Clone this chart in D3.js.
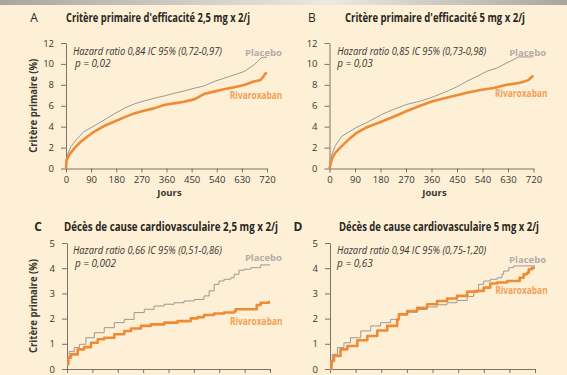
<!DOCTYPE html>
<html>
<head>
<meta charset="utf-8">
<script src="https://cdn.jsdelivr.net/npm/d3@7"></script>
<style>
html, body { margin: 0; padding: 0; background: #fdf0d6; }
svg { display: block; }
text { font-family: "Open Sans", "Noto Sans", sans-serif; }
</style>
</head>
<body>
<svg id="chart" width="567" height="375"></svg>
<script>
// ---- data (day, cumulative %) ----
const dayTicks = [0, 90, 180, 270, 360, 450, 540, 630, 720];
const primaryTicks = [0, 2, 4, 6, 8, 10, 12];
const deathTicks = [0, 1, 2, 3, 4, 5];

const placeboA = [[0,0],[2,0.6],[5,1.28],[17,2.08],[41,2.88],[64,3.51],[100,4.06],[136,4.63],[172,5.21],[208,5.75],[244,6.17],[279,6.45],[315,6.71],[351,6.93],[387,7.19],[423,7.41],[459,7.67],[494,7.89],[530,8.31],[566,8.63],[602,8.95],[638,9.27],[673,9.9],[697,10.54],[709,10.64],[720,10.64]];
const rivaA = [[0,0],[2,0.8],[11,1.28],[29,1.92],[53,2.56],[76,3.04],[100,3.51],[136,4.06],[172,4.47],[208,4.89],[244,5.27],[279,5.53],[315,5.75],[351,6.07],[387,6.23],[423,6.39],[459,6.61],[494,7.12],[530,7.35],[566,7.57],[602,7.76],[638,7.99],[673,8.31],[697,8.47],[707,8.79],[715,9.1],[720,9.17]];

const placeboB = [[0,0],[5,1.1],[20,2.16],[44,3.1],[93,3.9],[132,4.4],[185,5.17],[226,5.65],[273,6.13],[320,6.44],[361,6.8],[402,7.24],[449,7.8],[485,8.35],[520,8.8],[555,9.3],[591,9.6],[626,10.1],[649,10.4],[667,10.67],[720,10.67]];
const rivaB = [[0,0],[8,0.9],[20,1.5],[44,2.16],[73,2.9],[93,3.35],[132,3.95],[185,4.5],[226,4.95],[273,5.5],[320,6.0],[361,6.4],[402,6.7],[449,7.0],[485,7.25],[532,7.5],[579,7.7],[626,8.0],[673,8.2],[702,8.45],[715,8.8],[720,8.85]];

const placeboC = [[0,0.4],[8,0.7],[26,0.85],[44,0.98],[67,1.24],[97,1.44],[132,1.64],[168,1.84],[203,1.97],[238,2.24],[274,2.37],[309,2.5],[345,2.57],[380,2.63],[415,2.7],[451,2.76],[486,2.9],[504,3.1],[522,3.36],[539,3.49],[557,3.56],[581,3.62],[593,3.76],[610,3.92],[628,3.96],[652,4.02],[687,4.13],[720,4.13]];
const rivaC = [[0,0.19],[5,0.45],[14,0.58],[38,0.78],[61,0.87],[85,1.04],[109,1.18],[132,1.24],[168,1.38],[203,1.51],[227,1.61],[262,1.71],[297,1.77],[345,1.84],[392,1.9],[439,2.01],[463,2.06],[486,2.14],[522,2.2],[557,2.24],[593,2.28],[598,2.37],[673,2.54],[687,2.63],[716,2.66],[720,2.66]];

const placeboD = [[0,0.12],[8,0.58],[26,0.85],[49,1.04],[72,1.24],[108,1.51],[143,1.71],[178,1.84],[213,1.97],[242,2.14],[271,2.25],[306,2.36],[341,2.46],[376,2.55],[411,2.63],[446,2.72],[482,2.88],[505,3.12],[522,3.36],[540,3.49],[563,3.56],[587,3.62],[604,3.76],[610,3.89],[628,4.02],[645,4.09],[720,4.09]];
const rivaD = [[0,0],[5,0.32],[14,0.52],[37,0.78],[61,0.91],[96,1.14],[131,1.31],[166,1.53],[201,1.71],[236,1.97],[242,2.17],[271,2.3],[306,2.43],[341,2.57],[376,2.7],[411,2.8],[446,2.9],[482,3.07],[517,3.1],[540,3.23],[563,3.39],[587,3.43],[622,3.49],[666,3.62],[680,3.76],[692,3.82],[698,3.96],[710,4.02],[720,4.02]];

// ---- panels ----
const panels = [
    { letter: "A", letterBold: false, title: "Critère primaire d'efficacité 2,5 mg x 2/j", titleW: 184,
      hr: "Hazard ratio 0,84 IC 95% (0,72-0,97)", p: "p = 0,02",
      placebo: placeboA, riva: rivaA, yMax: 12, yTicks: primaryTicks, step: false,
      box: { left: 66, right: 267, top: 43, bottom: 168.5 }, letterX: 34, titleX: 66, titleY: 22,
      yLabel: true, placeboAt: [641, 11.1], rivaAt: [587, 7.0], hrAt: [25, 11.23], pAt: [32, 10.0] },
    { letter: "B", letterBold: false, title: "Critère primaire d'efficacité 5 mg x 2/j", titleW: 180,
      hr: "Hazard ratio 0,85 IC 95% (0,73-0,98)", p: "p = 0,03",
      placebo: placeboB, riva: rivaB, yMax: 12, yTicks: primaryTicks, step: false,
      box: { left: 329.5, right: 533.5, top: 43, bottom: 168.5 }, letterX: 312, titleX: 345, titleY: 22,
      yLabel: false, placeboAt: [634, 11.1], rivaAt: [584, 7.2], hrAt: [27, 11.23], pAt: [27, 10.0] },
    { letter: "C", letterBold: true, title: "Décès de cause cardiovasculaire 2,5 mg x 2/j", titleW: 214,
      hr: "Hazard ratio 0,66 IC 95% (0,51-0,86)", p: "p = 0,002",
      placebo: placeboC, riva: rivaC, yMax: 5, yTicks: deathTicks, step: true,
      box: { left: 67, right: 270, top: 243, bottom: 369 }, letterX: 38, titleX: 64, titleY: 231,
      yLabel: true, placeboAt: [631, 4.4], rivaAt: [578, 1.9], hrAt: [21, 4.72], pAt: [28, 4.2] },
    { letter: "D", letterBold: true, title: "Décès de cause cardiovasculaire 5 mg x 2/j", titleW: 200,
      hr: "Hazard ratio 0,94 IC 95% (0,75-1,20)", p: "p = 0,63",
      placebo: placeboD, riva: rivaD, yMax: 5, yTicks: deathTicks, step: true,
      box: { left: 330, right: 535, top: 243, bottom: 369 }, letterX: 298, titleX: 339, titleY: 231,
      yLabel: false, placeboAt: [629, 4.33], rivaAt: [580, 3.1], hrAt: [25, 4.72], pAt: [25, 4.2] }
];

const svg = d3.select("#chart");
const ink = "#3a3632";

// grey header strip
const defs = svg.append("defs");
const grad = defs.append("linearGradient").attr("id", "band");
grad.append("stop").attr("offset", "0%").attr("stop-color", "#a9a59f");
grad.append("stop").attr("offset", "58%").attr("stop-color", "#ece9e3");
grad.append("stop").attr("offset", "100%").attr("stop-color", "#a9a59f");
svg.append("rect").attr("width", 567).attr("height", 375).attr("fill", "#fdf0d6");
svg.append("rect").attr("width", 567).attr("height", 5).attr("fill", "url(#band)");

panels.forEach(p => {
    const b = p.box;
    const x = d3.scaleLinear().domain([0, 720]).range([b.left, b.right]);
    const y = d3.scaleLinear().domain([0, p.yMax]).range([b.bottom, b.top]);
    const g = svg.append("g");

    // axes
    const yAxis = g.append("g")
        .attr("transform", `translate(${b.left},0)`)
        .call(d3.axisLeft(y).tickValues(p.yTicks).tickFormat(d3.format("d"))
            .tickSize(5).tickSizeOuter(0).tickPadding(7));
    const xAxis = g.append("g")
        .attr("transform", `translate(0,${b.bottom})`)
        .call(d3.axisBottom(x).tickValues(dayTicks).tickFormat(d3.format("d"))
            .tickSize(4).tickSizeOuter(0).tickPadding(4));
    [yAxis, xAxis].forEach(a => {
        a.select(".domain").attr("stroke", "#6b6560").attr("stroke-width", 0.9);
        a.selectAll(".tick line").attr("stroke", "#6b6560").attr("stroke-width", 0.9);
        a.selectAll(".tick text").attr("fill", ink).style("font-size", "9.5px");
    });

    g.append("text")
        .attr("x", (b.left + b.right) / 2 + 3).attr("y", b.bottom + 27.5)
        .attr("text-anchor", "middle").attr("fill", ink)
        .style("font-size", "9.5px").style("font-weight", "bold")
        .text("Jours");

    if (p.yLabel) {
        g.append("text")
            .attr("transform", `translate(37,${(b.top + b.bottom) / 2}) rotate(-90)`)
            .attr("text-anchor", "middle").attr("fill", ink)
            .style("font-size", "10.5px").style("font-weight", "bold")
            .attr("textLength", 94).attr("lengthAdjust", "spacingAndGlyphs")
            .text("Critère primaire (%)");
    }

    // titles
    g.append("text")
        .attr("x", p.letterX).attr("y", p.titleY).attr("text-anchor", "middle")
        .attr("fill", "#2a2622").style("font-size", "12px")
        .style("font-weight", p.letterBold ? "bold" : "normal")
        .text(p.letter);
    g.append("text")
        .attr("x", p.titleX).attr("y", p.titleY).attr("fill", "#2a2622")
        .style("font-size", "12px").style("font-weight", "bold")
        .attr("textLength", p.titleW).attr("lengthAdjust", "spacingAndGlyphs")
        .text(p.title);

    // curves
    const line = d3.line()
        .x(d => x(d[0])).y(d => y(d[1]))
        .curve(p.step ? d3.curveStepAfter : d3.curveLinear);
    g.append("path").datum(p.placebo)
        .attr("fill", "none").attr("stroke", "#9d9893").attr("stroke-width", 1)
        .attr("d", line);
    g.append("path").datum(p.riva)
        .attr("fill", "none").attr("stroke", "#ef8a35").attr("stroke-width", 2.6)
        .attr("stroke-linejoin", "round")
        .attr("d", line);

    // annotations
    g.append("text")
        .attr("x", x(p.hrAt[0])).attr("y", y(p.hrAt[1])).attr("dy", "0.35em")
        .attr("fill", ink).style("font-size", "10.5px").style("font-style", "italic")
        .attr("textLength", 149).attr("lengthAdjust", "spacingAndGlyphs")
        .text(p.hr);
    g.append("text")
        .attr("x", x(p.pAt[0])).attr("y", y(p.pAt[1])).attr("dy", "0.35em")
        .attr("fill", ink).style("font-size", "10px").style("font-style", "italic")
        .text(p.p);
    g.append("text")
        .attr("x", x(p.placeboAt[0])).attr("y", y(p.placeboAt[1])).attr("dy", "0.35em")
        .attr("fill", "#b2aea8").style("font-size", "9.5px").style("font-weight", "bold")
        .text("Placebo");
    g.append("text")
        .attr("x", x(p.rivaAt[0])).attr("y", y(p.rivaAt[1])).attr("dy", "0.35em")
        .attr("fill", "#f3a05a").style("font-size", "10px").style("font-weight", "bold")
        .attr("textLength", 52.5).attr("lengthAdjust", "spacingAndGlyphs")
        .text("Rivaroxaban");
});
</script>
</body>
</html>
